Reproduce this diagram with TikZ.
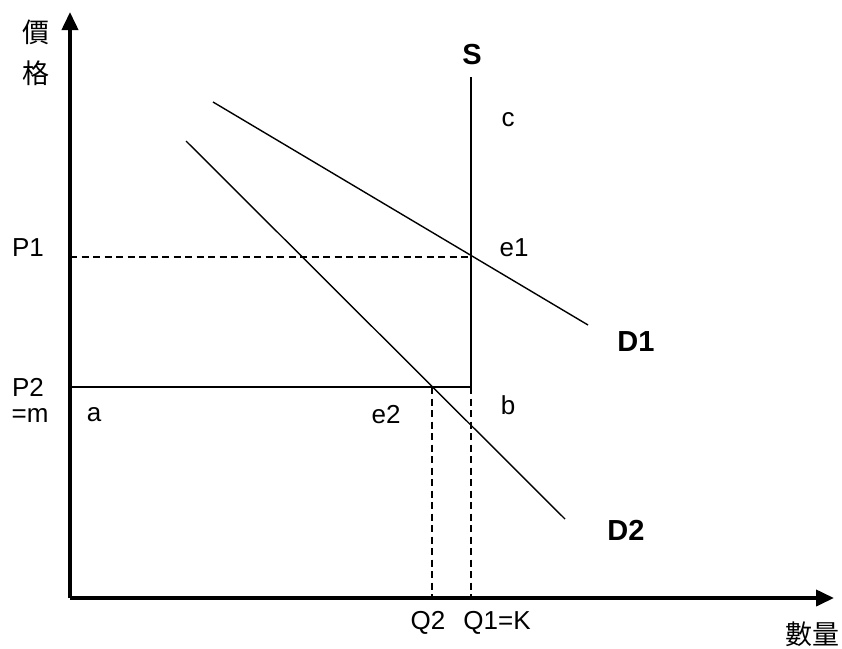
\documentclass[tikz,border=0pt]{standalone}
\usepackage{fontspec}
\setmainfont{Liberation Sans}
\newfontfamily\cjk{Noto Sans CJK TC}
\usetikzlibrary{arrows.meta}

\begin{document}
\begin{tikzpicture}[x=1pt, y=-1pt, every node/.style={font=\fontsize{26}{30}\selectfont, inner sep=0pt},
  axis/.style={line width=3.8pt, -{Triangle[length=18pt,width=16pt]}},
  curve/.style={line width=1.4pt},
  guide/.style={line width=1.4pt, dash pattern=on 7pt off 4.5pt},
  boldlabel/.style={font=\fontsize{29}{34}\selectfont\bfseries},
  cjklabel/.style={font=\fontsize{27}{30}\selectfont\cjk}]
  \useasboundingbox (0,0) rectangle (842,648);
  % axes
  \coordinate (O) at (70,598);
  \coordinate (ytop) at (70,12);
  \coordinate (xend) at (834,598);
  \draw[axis] (O) -- (ytop);
  \draw[axis] (O) -- (xend);
  \node[cjklabel] (price1) at (36,32) {價};
  \node[cjklabel] (price2) at (36,73) {格};
  \node[cjklabel] (qty) at (812,634) {數量};
  % supply
  \coordinate (Stop) at (471,77);
  \coordinate (Sbot) at (471,387);
  \draw[curve] (Stop) -- (Sbot);
  \node[boldlabel] (S) at (472,55) {S};
  % demand
  \coordinate (D1a) at (213,102);
  \coordinate (D1b) at (588,325);
  \coordinate (D2a) at (186,141);
  \coordinate (D2b) at (565,519);
  \draw[curve] (D1a) -- (D1b);
  \draw[curve] (D2a) -- (D2b);
  \node[boldlabel] (D1) at (636,342) {D1};
  \node[boldlabel] (D2) at (626,530) {D2};
  % price levels
  \coordinate (e1) at (471,257);
  \coordinate (e2) at (432,387);
  \coordinate (P1y) at (70,257);
  \coordinate (P2y) at (70,387);
  \coordinate (Q2x) at (432,598);
  \coordinate (Q1x) at (471,598);
  \draw[guide] (P1y) -- (e1);
  \draw[curve] (P2y) -- (Sbot);
  \draw[guide] (e2) -- (Q2x);
  \draw[guide] (Sbot) -- (Q1x);
  % labels
  \node (P1) at (28,248) {P1};
  \node (P2) at (28,387) {P2};
  \node (m) at (30,415) {=m};
  \node (a) at (94,415) {a};
  \node (le2) at (386,415) {e2};
  \node (b) at (508,405) {b};
  \node (c) at (508,120) {c};
  \node (le1) at (514,248) {e1};
  \node (Q2) at (428,623) {Q2};
  \node (Q1) at (497,623) {Q1=K};
\end{tikzpicture}
\end{document}
